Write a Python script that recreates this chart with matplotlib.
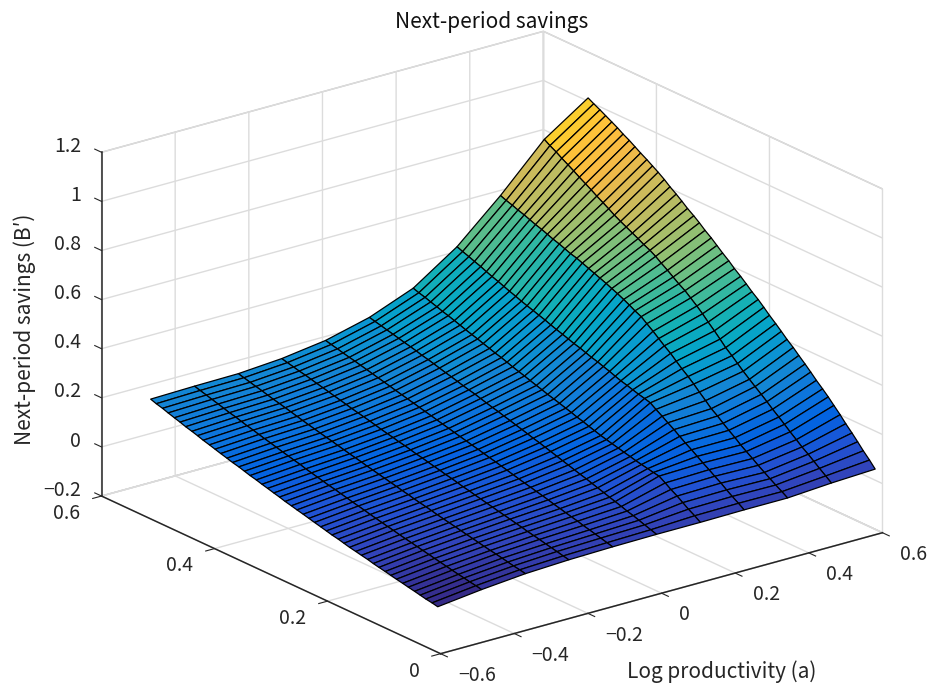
"""Next-period savings policy surface (MATLAB surf look)."""

import matplotlib

matplotlib.use("Agg")
import matplotlib.pyplot as plt
import numpy as np
from matplotlib.colors import LinearSegmentedColormap, Normalize
from matplotlib.transforms import ScaledTranslation

plt.rcParams["font.family"] = ["Noto Sans CJK JP", "DejaVu Sans"]

log_prod = [-0.594, -0.475, -0.356, -0.238, -0.119, 0.0, 0.119, 0.238, 0.356, 0.475, 0.594]
savings_grid = [
    0.009, 0.019, 0.030, 0.040, 0.050, 0.061, 0.071, 0.082, 0.092, 0.102,
    0.113, 0.123, 0.133, 0.144, 0.154, 0.165, 0.175, 0.185, 0.196, 0.206,
    0.216, 0.227, 0.237, 0.247, 0.258, 0.268, 0.279, 0.289, 0.299, 0.310,
    0.320, 0.330, 0.341, 0.351, 0.361, 0.372, 0.382, 0.393, 0.403, 0.413,
    0.424, 0.434, 0.444, 0.455, 0.465, 0.475, 0.486, 0.496, 0.507, 0.517,
]

# next-period savings along savings_grid, one list per productivity value
next_a0 = [
    -0.021, -0.016, -0.012, -0.007, -0.002, 0.003, 0.008, 0.013, 0.018, 0.023,
    0.028, 0.033, 0.039, 0.044, 0.049, 0.054, 0.060, 0.066, 0.071, 0.077,
    0.083, 0.089, 0.095, 0.101, 0.107, 0.113, 0.119, 0.126, 0.132, 0.139,
    0.145, 0.152, 0.158, 0.165, 0.172, 0.178, 0.185, 0.192, 0.199, 0.206,
    0.213, 0.221, 0.228, 0.235, 0.243, 0.250, 0.258, 0.266, 0.273, 0.281,
]
next_a1 = [
    0.000, 0.005, 0.009, 0.014, 0.018, 0.023, 0.028, 0.033, 0.038, 0.043,
    0.048, 0.053, 0.058, 0.063, 0.068, 0.074, 0.079, 0.084, 0.090, 0.095,
    0.101, 0.107, 0.112, 0.118, 0.124, 0.130, 0.135, 0.141, 0.147, 0.153,
    0.159, 0.166, 0.172, 0.178, 0.184, 0.191, 0.197, 0.204, 0.210, 0.217,
    0.223, 0.230, 0.237, 0.243, 0.250, 0.257, 0.264, 0.271, 0.278, 0.285,
]
next_a2 = [
    0.016, 0.021, 0.025, 0.030, 0.035, 0.040, 0.044, 0.049, 0.054, 0.059,
    0.064, 0.069, 0.074, 0.079, 0.084, 0.089, 0.095, 0.100, 0.105, 0.110,
    0.116, 0.121, 0.127, 0.132, 0.138, 0.143, 0.149, 0.154, 0.160, 0.166,
    0.171, 0.177, 0.183, 0.189, 0.194, 0.200, 0.206, 0.212, 0.218, 0.224,
    0.231, 0.237, 0.243, 0.249, 0.255, 0.262, 0.268, 0.274, 0.281, 0.287,
]
next_a3 = [
    0.024, 0.029, 0.035, 0.040, 0.045, 0.051, 0.056, 0.061, 0.067, 0.072,
    0.078, 0.083, 0.088, 0.094, 0.099, 0.105, 0.110, 0.116, 0.121, 0.127,
    0.133, 0.138, 0.144, 0.149, 0.155, 0.161, 0.166, 0.172, 0.178, 0.183,
    0.189, 0.194, 0.200, 0.206, 0.212, 0.218, 0.223, 0.229, 0.235, 0.241,
    0.247, 0.253, 0.259, 0.265, 0.271, 0.277, 0.282, 0.288, 0.294, 0.300,
]
next_a4 = [
    0.028, 0.034, 0.041, 0.047, 0.053, 0.059, 0.066, 0.072, 0.078, 0.084,
    0.090, 0.097, 0.103, 0.109, 0.115, 0.121, 0.127, 0.133, 0.140, 0.146,
    0.152, 0.158, 0.164, 0.170, 0.176, 0.182, 0.188, 0.194, 0.200, 0.206,
    0.212, 0.218, 0.224, 0.230, 0.236, 0.242, 0.248, 0.254, 0.260, 0.266,
    0.272, 0.278, 0.284, 0.290, 0.296, 0.301, 0.307, 0.313, 0.319, 0.325,
]
next_a5 = [
    0.030, 0.038, 0.046, 0.054, 0.062, 0.069, 0.077, 0.085, 0.092, 0.100,
    0.108, 0.115, 0.123, 0.130, 0.137, 0.145, 0.152, 0.159, 0.167, 0.174,
    0.181, 0.188, 0.195, 0.202, 0.209, 0.216, 0.223, 0.230, 0.236, 0.243,
    0.250, 0.257, 0.263, 0.269, 0.276, 0.283, 0.289, 0.296, 0.303, 0.309,
    0.315, 0.322, 0.328, 0.334, 0.340, 0.346, 0.352, 0.358, 0.364, 0.370,
]
next_a6 = [
    0.030, 0.046, 0.061, 0.077, 0.093, 0.108, 0.124, 0.140, 0.144, 0.149,
    0.154, 0.159, 0.165, 0.171, 0.177, 0.183, 0.189, 0.195, 0.203, 0.210,
    0.218, 0.225, 0.233, 0.240, 0.248, 0.255, 0.262, 0.270, 0.277, 0.285,
    0.293, 0.300, 0.308, 0.316, 0.324, 0.331, 0.339, 0.347, 0.355, 0.362,
    0.370, 0.378, 0.386, 0.394, 0.401, 0.409, 0.417, 0.425, 0.432, 0.440,
]
next_a7 = [
    0.032, 0.048, 0.064, 0.080, 0.097, 0.113, 0.129, 0.145, 0.161, 0.177,
    0.193, 0.209, 0.226, 0.242, 0.258, 0.274, 0.290, 0.297, 0.303, 0.310,
    0.317, 0.324, 0.332, 0.341, 0.349, 0.357, 0.364, 0.372, 0.380, 0.387,
    0.395, 0.403, 0.411, 0.419, 0.428, 0.436, 0.444, 0.452, 0.460, 0.469,
    0.478, 0.487, 0.496, 0.505, 0.514, 0.524, 0.533, 0.542, 0.551, 0.560,
]
next_a8 = [
    0.032, 0.047, 0.062, 0.077, 0.092, 0.109, 0.126, 0.143, 0.159, 0.178,
    0.196, 0.214, 0.233, 0.251, 0.273, 0.296, 0.318, 0.338, 0.358, 0.378,
    0.399, 0.418, 0.437, 0.456, 0.475, 0.493, 0.505, 0.518, 0.530, 0.542,
    0.552, 0.562, 0.572, 0.581, 0.590, 0.600, 0.609, 0.616, 0.625, 0.634,
    0.642, 0.651, 0.660, 0.668, 0.677, 0.686, 0.694, 0.703, 0.711, 0.720,
]
next_a9 = [
    0.044, 0.062, 0.081, 0.099, 0.117, 0.135, 0.154, 0.174, 0.194, 0.213,
    0.233, 0.253, 0.272, 0.292, 0.311, 0.332, 0.353, 0.374, 0.395, 0.419,
    0.442, 0.466, 0.489, 0.510, 0.531, 0.550, 0.566, 0.583, 0.600, 0.617,
    0.634, 0.648, 0.660, 0.673, 0.685, 0.698, 0.710, 0.724, 0.739, 0.753,
    0.768, 0.783, 0.797, 0.812, 0.827, 0.841, 0.856, 0.871, 0.885, 0.900,
]
next_a10 = [
    0.052, 0.078, 0.104, 0.130, 0.155, 0.181, 0.207, 0.233, 0.257, 0.279,
    0.302, 0.325, 0.347, 0.370, 0.392, 0.413, 0.435, 0.456, 0.478, 0.500,
    0.521, 0.541, 0.562, 0.582, 0.602, 0.623, 0.643, 0.663, 0.683, 0.702,
    0.722, 0.740, 0.758, 0.777, 0.795, 0.813, 0.832, 0.850, 0.865, 0.880,
    0.895, 0.910, 0.925, 0.939, 0.954, 0.967, 0.981, 0.994, 1.007, 1.020,
]

x_ticks = [-0.6, -0.4, -0.2, 0, 0.2, 0.4, 0.6]
x_tick_labels = ["\u22120.6", "\u22120.4", "\u22120.2", "0", "0.2", "0.4", "0.6"]
y_ticks = [0, 0.2, 0.4, 0.6]
y_tick_labels = ["0", "0.2", "0.4", "0.6"]
z_ticks = [-0.2, 0, 0.2, 0.4, 0.6, 0.8, 1, 1.2]
z_tick_labels = ["\u22120.2", "0", "0.2", "0.4", "0.6", "0.8", "1", "1.2"]

# old-style parula, a subset of the 64 entries
parula_stops = [
    (0.2081, 0.1663, 0.5292), (0.1959, 0.2645, 0.7279), (0.1253, 0.3242, 0.8303),
    (0.0117, 0.3875, 0.8820), (0.0498, 0.4586, 0.8641), (0.0793, 0.5200, 0.8312),
    (0.0343, 0.5966, 0.8199), (0.0228, 0.6535, 0.7768), (0.0843, 0.6928, 0.7062),
    (0.2178, 0.7250, 0.6193), (0.3953, 0.7459, 0.5244), (0.5709, 0.7485, 0.4494),
    (0.7184, 0.7411, 0.3905), (0.8507, 0.7299, 0.3360), (0.9739, 0.7314, 0.2666),
    (0.9990, 0.7653, 0.2164), (0.9789, 0.8271, 0.1633), (0.9589, 0.8949, 0.1132),
    (0.9763, 0.9831, 0.0538),
]
parula = LinearSegmentedColormap.from_list("parula", parula_stops)

W, H = 933, 688
fig = plt.figure(figsize=(W / 100, H / 100), dpi=100)
side = 844
ax = fig.add_axes(
    [58.6 / W, -87.9 / H, side / W, side / H], projection="3d", proj_type="ortho"
)
ax.view_init(elev=20.9, azim=-127.5)
ax.set_box_aspect((557, 557, 368))

X, Y = np.meshgrid(log_prod, savings_grid)
Z = np.column_stack(
    [
        next_a0, next_a1, next_a2, next_a3, next_a4, next_a5,
        next_a6, next_a7, next_a8, next_a9, next_a10,
    ]
)
colors = parula(Normalize(Z.min(), Z.max())(Z))
ax.plot_surface(
    X, Y, Z, facecolors=colors, edgecolor="black", linewidth=0.9,
    rstride=1, cstride=1, shade=False,
)

ax.set_xlim(-0.6, 0.6)
ax.set_ylim(0, 0.6)
ax.set_zlim(-0.2, 1.2)
ax.set_xticks(x_ticks, x_tick_labels)
ax.set_yticks(y_ticks, y_tick_labels)
ax.set_zticks(z_ticks, z_tick_labels)

for axis in (ax.xaxis, ax.yaxis, ax.zaxis):
    axis.set_pane_color((1, 1, 1, 1))
    axis.pane.set_edgecolor("#c4c4c4")
    axis.line.set_color("#262626")
    axis.line.set_linewidth(1.1)
    axis._axinfo["grid"].update(color="#dcdcdc", linewidth=1.0)
    axis._axinfo["tick"].update(inward_factor=0.25, outward_factor=0.0)
ax.zaxis._get_tickdir = lambda pos: 1  # z ticks lean back along y like MATLAB
ax.zaxis._axinfo["tick"].update(inward_factor=0.0, outward_factor=0.25)
ax.tick_params(labelsize=14, labelcolor="#262626", color="#262626", width=0.9)


def nudge_labels(axis, ha, dx, dy):
    # Axis3D resets label transforms in get_major_ticks, so wrap it to keep a pixel shift
    shift = ScaledTranslation(dx / 100, dy / 100, fig.dpi_scale_trans)
    original = axis.get_major_ticks

    def get_major_ticks(numticks=None):
        ticks = original(numticks)
        for tick in ticks:
            tick.label1.set_ha(ha)
            tick.label1.set_transform(ax.transData + shift)
        return ticks

    axis.get_major_ticks = get_major_ticks


nudge_labels(ax.xaxis, "left", 5, 7)
nudge_labels(ax.yaxis, "right", -5, 10)
nudge_labels(ax.zaxis, "right", 8, 15)

fig.text(492 / W, 1 - 22 / H, "Next-period savings", ha="center", va="center",
         fontsize=15, color="#111111")
fig.text(722 / W, 1 - 672 / H, "Log productivity (a)", ha="center", va="center",
         fontsize=15, color="#262626")
fig.text(25 / W, 1 - 329 / H, "Next-period savings (B\u2032)", ha="center", va="center",
         rotation=90, fontsize=15, color="#262626")

fig.savefig("out.png", dpi=100)
